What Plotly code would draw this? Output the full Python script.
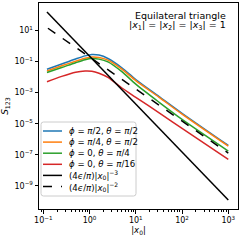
import plotly.graph_objects as go

# ---- data ----
x0 = [0.12, 0.25, 0.5, 0.8, 1.12, 1.6, 2.5, 5, 10, 32, 100, 1000]
s_phi_pi2_th_pi2 = [0.0324, 0.0708, 0.148, 0.234, 0.288, 0.263, 0.158, 0.0398, 0.00708, 5.62e-4, 4.68e-5, 3.98e-7]
s_phi_pi4_th_pi2 = [0.0251, 0.0537, 0.107, 0.166, 0.200, 0.186, 0.126, 0.0331, 0.00603, 5.01e-4, 4.17e-5, 3.63e-7]
s_phi0_th_pi4 = [0.0200, 0.0417, 0.0851, 0.132, 0.158, 0.145, 0.0955, 0.0224, 0.00355, 2.40e-4, 1.91e-5, 1.74e-7]
s_phi0_th_pi16 = [0.00501, 0.0112, 0.0209, 0.0251, 0.0240, 0.0178, 0.00955, 0.00200, 5.01e-4, 5.01e-5, 5.01e-6, 5.01e-8]
x_pow3 = [0.12, 1000]
s_pow3 = [157, 1.23e-10]
x_pow2 = [0.126, 1000]
s_pow2 = [14.1, 1.29e-7]

labels = [
    "<i>ϕ</i> = <i>π</i>/2, <i>θ</i> = <i>π</i>/2",
    "<i>ϕ</i> = <i>π</i>/4, <i>θ</i> = <i>π</i>/2",
    "<i>ϕ</i> = 0, <i>θ</i> = <i>π</i>/4",
    "<i>ϕ</i> = 0, <i>θ</i> = <i>π</i>/16",
    "(4<i>ϵ</i>/<i>π</i>)|<i>x</i><sub>0</sub>|<sup>−3</sup>",
    "(4<i>ϵ</i>/<i>π</i>)|<i>x</i><sub>0</sub>|<sup>−2</sup>",
]
x_tickvals = [0.1, 1, 10, 100, 1000]
x_ticktext = ["10<sup>−1</sup>", "10<sup>0</sup>", "10<sup>1</sup>", "10<sup>2</sup>", "10<sup>3</sup>"]
y_tickvals = [1e-9, 1e-7, 1e-5, 1e-3, 1e-1, 10]
y_ticktext = ["10<sup>−9</sup>", "10<sup>−7</sup>", "10<sup>−5</sup>", "10<sup>−3</sup>", "10<sup>−1</sup>", "10<sup>1</sup>"]

colors = ["#1f77b4", "#ff7f0e", "#2ca02c", "#d62728", "black", "black"]
dashes = ["solid"] * 5 + ["dash"]

W, H = 240, 240
ML, MR, MT, MB = 39, 2, 3, 31
FONT = "DejaVu Sans"

fig = go.Figure()
series = [
    (x0, s_phi_pi2_th_pi2),
    (x0, s_phi_pi4_th_pi2),
    (x0, s_phi0_th_pi4),
    (x0, s_phi0_th_pi16),
    (x_pow3, s_pow3),
    (x_pow2, s_pow2),
]
for (xs, ys), c, d, name in zip(series, colors, dashes, labels):
    fig.add_trace(go.Scatter(
        x=xs, y=ys, mode="lines", name=name,
        line=dict(color=c, width=1.5, dash=d, shape="spline", smoothing=0.8),
        showlegend=False,
    ))

# manual legend (matplotlib-like compact legend)
pw = W - ML - MR
ph = H - MT - MB
def px2x(px):
    return (px - ML) / pw
def py2y(py):
    return (H - MB - py) / ph

leg_left, leg_top, leg_right, leg_bottom = 41, 122, 136, 196
r = 2.5
rx, ry = r / pw, r / ph
xl, xr_ = px2x(leg_left), px2x(leg_right)
yt, yb = py2y(leg_top), py2y(leg_bottom)
path = (f"M {xl+rx},{yb} L {xr_-rx},{yb} Q {xr_},{yb} {xr_},{yb+ry} "
        f"L {xr_},{yt-ry} Q {xr_},{yt} {xr_-rx},{yt} "
        f"L {xl+rx},{yt} Q {xl},{yt} {xl},{yt-ry} "
        f"L {xl},{yb+ry} Q {xl},{yb} {xl+rx},{yb} Z")
fig.add_shape(type="path", xref="paper", yref="paper", path=path,
              line=dict(color="#cccccc", width=1), fillcolor="rgba(255,255,255,0.8)", layer="above")
row0, row_step = 131, 11.1
for i, (c, d, name) in enumerate(zip(colors, dashes, labels)):
    yy = py2y(row0 + i * row_step)
    fig.add_shape(type="line", xref="paper", yref="paper",
                  x0=px2x(43), x1=px2x(62), y0=yy, y1=yy,
                  line=dict(color=c, width=1.5, dash=d), layer="above")
    fig.add_annotation(xref="paper", yref="paper", x=px2x(67), y=yy, text=name,
                       showarrow=False, xanchor="left", yanchor="middle",
                       font=dict(family=FONT, size=8.6, color="black"))

fig.add_annotation(xref="paper", yref="paper", x=px2x(228), y=py2y(15.7),
                   text="Equilateral triangle", showarrow=False, xanchor="right", yanchor="middle",
                   font=dict(family=FONT, size=9.5, color="black"))
fig.add_annotation(xref="paper", yref="paper", x=px2x(228), y=py2y(26),
                   text="|<i>x</i><sub>1</sub>| = |<i>x</i><sub>2</sub>| = |<i>x</i><sub>3</sub>| = 1",
                   showarrow=False, xanchor="right", yanchor="middle",
                   font=dict(family=FONT, size=9.5, color="black"))

minor_x = [k * 10 ** e for e in range(-2, 4) for k in range(2, 10)]

fig.update_layout(
    width=W, height=H,
    margin=dict(l=ML, r=MR, t=MT, b=MB, autoexpand=False),
    paper_bgcolor="white", plot_bgcolor="white",
    font=dict(family=FONT, size=8, color="black"),
    showlegend=False,
    xaxis=dict(
        type="log", range=[-1.093, 3.21], automargin=False,
        tickmode="array", tickvals=x_tickvals, ticktext=x_ticktext,
        ticks="outside", ticklen=3.5, tickwidth=0.8, tickcolor="black",
        showline=True, linecolor="black", linewidth=1, mirror=True,
        showgrid=False, zeroline=False,
        minor=dict(tickmode="array", tickvals=minor_x, ticks="outside", ticklen=2,
                   tickwidth=0.6, tickcolor="black", showgrid=False),
        tickfont=dict(family=FONT, size=8),
        title=dict(text="|<i>x</i><sub>0</sub>|", font=dict(family=FONT, size=8.5), standoff=2),
    ),
    yaxis=dict(
        type="log", range=[-10.49, 2.775], automargin=False,
        tickmode="array", tickvals=y_tickvals, ticktext=y_ticktext,
        ticks="outside", ticklen=3.5, tickwidth=0.8, tickcolor="black",
        showline=True, linecolor="black", linewidth=1, mirror=True,
        showgrid=False, zeroline=False,
        tickfont=dict(family=FONT, size=8),
        title=dict(text="<i>S</i><sub>123</sub>", font=dict(family=FONT, size=9), standoff=4),
    ),
)

fig.write_html(
    "out.html",
    config={"displayModeBar": False},
    post_script="document.body.style.margin='0';document.body.style.overflow='hidden';",
)
